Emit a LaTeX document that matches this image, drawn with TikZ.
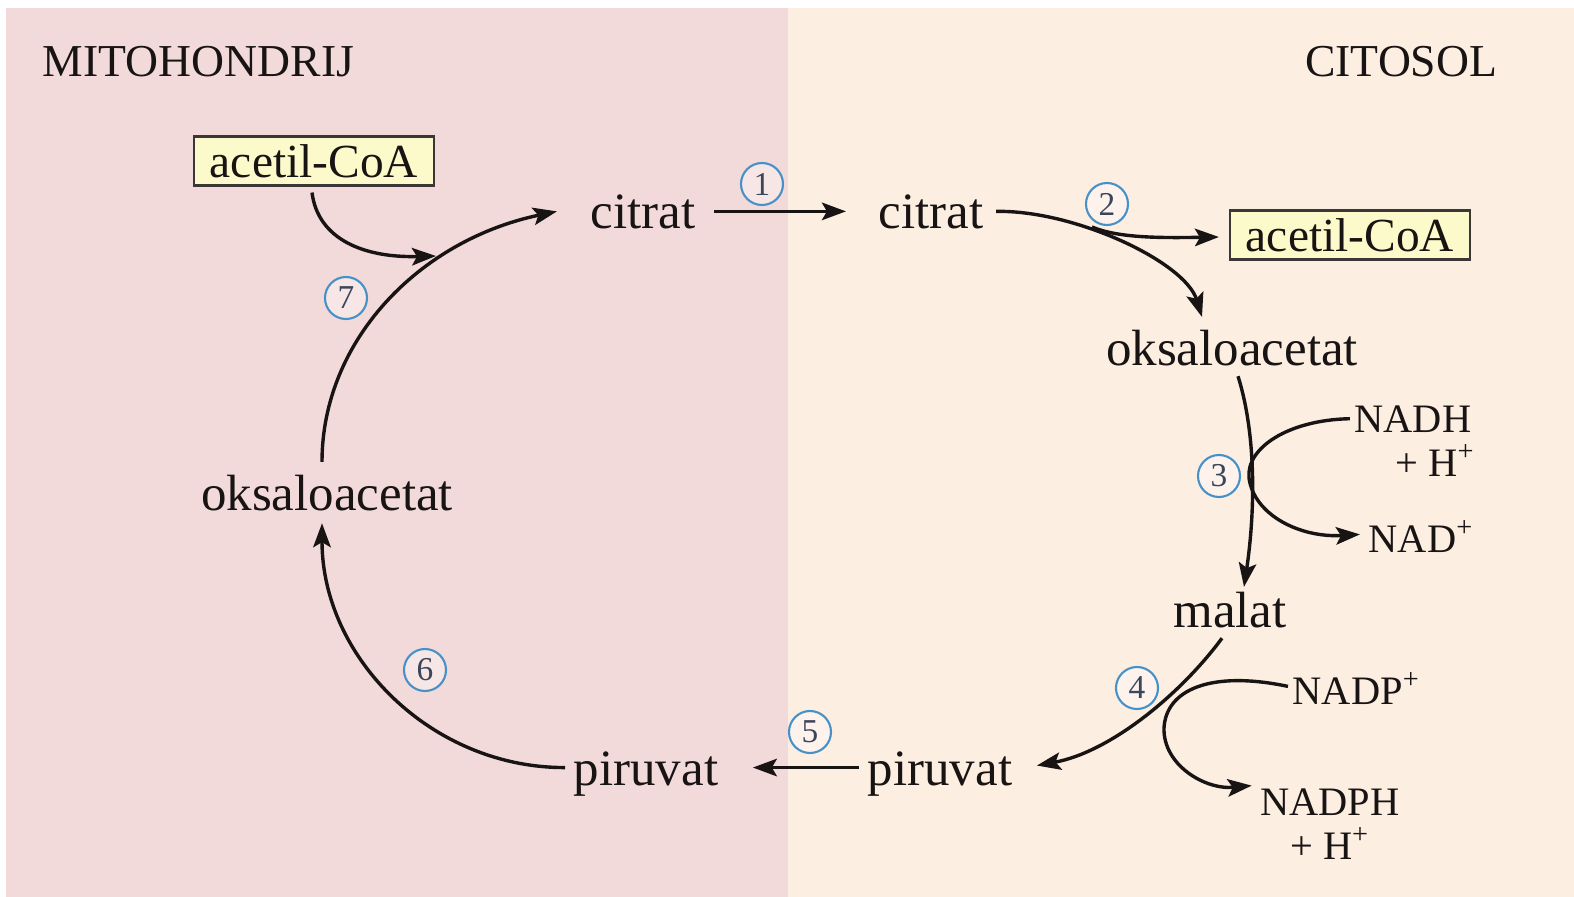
\documentclass[tikz,border=0pt]{standalone}
\usepackage{fontspec}
\setmainfont{Liberation Serif}
\usetikzlibrary{arrows.meta,calc}
\definecolor{mitobg}{RGB}{243,218,218}
\definecolor{cytobg}{RGB}{253,238,226}
\definecolor{boxfill}{RGB}{252,250,202}
\definecolor{ringblue}{RGB}{70,145,200}
\definecolor{numgray}{RGB}{60,70,90}
\definecolor{ink}{RGB}{25,20,20}
\tikzset{
  lbl/.style={font=\fontsize{14.5}{16}\selectfont, inner sep=0pt, text=ink},
  side/.style={font=\fontsize{13}{15}\selectfont, inner sep=0pt, text=ink},
  cofac/.style={font=\fontsize{11.5}{13}\selectfont, inner sep=0pt, text=ink},
  acbox/.style={draw=ink!85, line width=0.6pt, fill=boxfill, font=\fontsize{13.5}{15}\selectfont,
                text=ink, minimum width=24mm, minimum height=4.9mm, inner sep=0pt},
  num/.style={circle, draw=ringblue, line width=0.6pt, fill=white, fill opacity=0.35, text opacity=1,
              minimum size=4.2mm, inner sep=0pt, font=\fontsize{9.5}{9.5}\selectfont, text=numgray},
  arr/.style={draw=ink, line width=0.34mm, -{Stealth[length=2.4mm,width=1.75mm,inset=0.5mm]}}
}
\newcommand{\plussup}{\textsuperscript{+}}
\begin{document}
\begin{tikzpicture}[x=0.1mm,y=-0.1mm]
  \useasboundingbox (0,0) rectangle (1574,897);
  % compartments
  \fill[white] (0,0) rectangle (1574,897);
  \fill[mitobg] (6,8) rectangle (788,897);
  \fill[cytobg] (788,8) rectangle (1574,897);

  % compartment titles
  \node[side, anchor=base west] (mito) at (42,77) {MITOHONDRIJ};
  \node[side, anchor=base east] (cyto) at (1498,77) {CITOSOL};

  % metabolites
  \node[acbox] (accL) at (314,161) {acetil-CoA};
  \node[acbox] (accR) at (1350,235) {acetil-CoA};
  \node[lbl, anchor=base] (citL) at (643,228) {citrat};
  \node[lbl, anchor=base] (citR) at (931,228) {citrat};
  \node[lbl, anchor=base] (oksR) at (1232,365) {oksaloacetat};
  \node[lbl, anchor=base] (malat) at (1230,627) {malat};
  \node[lbl, anchor=base] (pirR) at (940,785) {piruvat};
  \node[lbl, anchor=base] (pirL) at (646,785) {piruvat};
  \node[lbl, anchor=base] (oksL) at (327,510) {oksaloacetat};

  % cofactors
  \node[cofac, anchor=base east] (nadh) at (1472,432) {NADH};
  \node[cofac, anchor=base east] (nadhH) at (1476,476) {+ H\plussup};
  \node[cofac, anchor=base west] (nad) at (1368,552) {NAD\plussup};
  \node[cofac, anchor=base west] (nadp) at (1292,704) {NADP\plussup};
  \node[cofac, anchor=base] (nadph) at (1330,815) {NADPH};
  \node[cofac, anchor=base] (nadphH) at (1330,859) {+ H\plussup};

  % branch points
  \coordinate (j7) at (436,256);
  \coordinate (j2) at (1092,227);

  % step 1: citrate transport
  \draw[arr] ($(citL.east)+(18,0)$) -- ($(citR.west)+(-32,0)$);
  % step 2: ATP-citrate lyase
  \draw[arr] ($(citR.east)+(12,0)$) .. controls (1075,210) and (1185,262) .. ($(oksR.north)+(-30,-12)$);
  \draw[arr] (j2) .. controls (1118,238) and (1160,238) .. ($(accR.west)+(-10,2)$);
  % step 3: malate dehydrogenase
  \draw[arr] ($(oksR.south)+(6,10)$) .. controls (1258,440) and (1254,520) .. ($(malat.north)+(14,-4)$);
  \draw[arr] ($(nadh.west)+(-4,0)$) .. controls (1288,420) and (1246,448) .. (1249,478)
             .. controls (1254,515) and (1300,538) .. ($(nad.west)+(-8,-2)$);
  % step 4: malic enzyme
  \draw[arr] ($(malat.south)+(-8,10)$) .. controls (1180,695) and (1110,752) .. ($(pirR.east)+(24,-8)$);
  \draw[arr] ($(nadp.west)+(-4,-2)$) .. controls (1210,670) and (1166,690) .. (1164,728)
             .. controls (1163,765) and (1205,790) .. ($(nadph.north west)+(-8,-2)$);
  % step 5: pyruvate transport
  \draw[arr] ($(pirR.west)+(-8,-6)$) -- ($(pirL.east)+(34,-6)$);
  % step 6: pyruvate carboxylase
  \draw[arr] ($(pirL.west)+(-8,-6)$) .. controls (432,768) and (322,658) .. ($(oksL.south)+(-5,12)$);
  % step 7: citrate synthase
  \draw[arr] ($(oksL.north)+(-5,-12)$) .. controls (322,340) and (420,240) .. ($(citL.west)+(-33,0)$);
  \draw[arr] ($(accL.south)+(-2,6)$) .. controls (318,240) and (365,258) .. (j7);

  % step numbers
  \node[num] (n1) at (762,184) {1};
  \node[num] (n2) at (1107,204) {2};
  \node[num] (n3) at (1219,476) {3};
  \node[num] (n4) at (1137,688) {4};
  \node[num] (n5) at (810,732) {5};
  \node[num] (n6) at (425,670) {6};
  \node[num] (n7) at (346,298) {7};
\end{tikzpicture}
\end{document}
